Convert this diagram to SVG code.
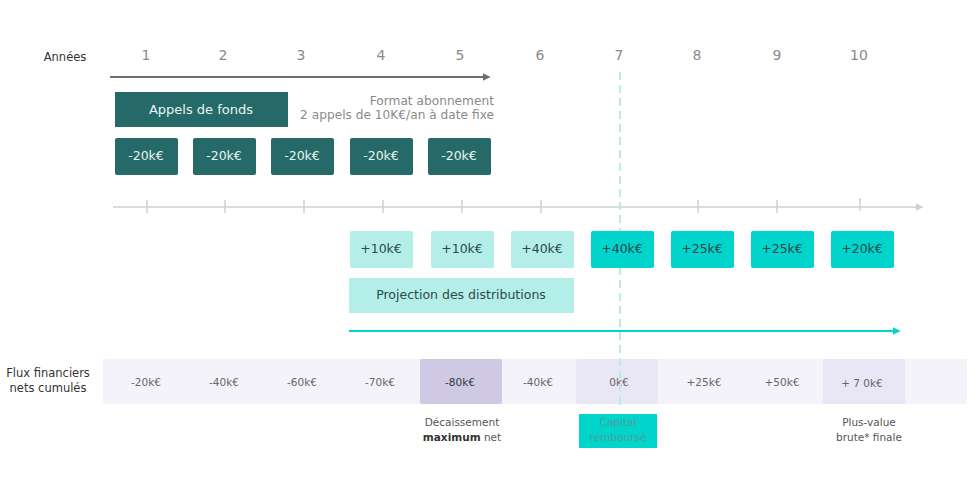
<svg xmlns="http://www.w3.org/2000/svg" width="980" height="500" viewBox="0 0 980 500">
<defs>
<style>
text{font-family:"DejaVu Sans","Noto Sans",sans-serif}
.yr{font-size:14px;fill:#8a8a8a;text-anchor:middle}
.lbl{font-size:11.5px;fill:#333;text-anchor:middle}
.dark{fill:#256a69}
.light{fill:#b4eee8}
.teal{fill:#00d4cb}
.wt{font-size:12.5px;fill:#e8f4f3;text-anchor:middle}
.dt{font-size:12.5px;fill:#2c4a4a;text-anchor:middle}
.note{font-size:12.2px;fill:#8a8a8a;text-anchor:end}
.cell{font-size:10.5px;fill:#666;text-anchor:middle}
.cap{font-size:10.5px;fill:#555;text-anchor:middle}
.tick{stroke:#d0d0d0;stroke-width:1.5}
</style>
<marker id="ag" viewBox="0 0 10 10" refX="8" refY="5" markerWidth="4" markerHeight="4" orient="auto"><path d="M0,0L10,5L0,10z" fill="#6e6e6e"/></marker>
<marker id="al" viewBox="0 0 10 10" refX="8" refY="5" markerWidth="5" markerHeight="5" orient="auto"><path d="M0,0L10,5L0,10z" fill="#d0d0d0"/></marker>
<marker id="at" viewBox="0 0 10 10" refX="8" refY="5" markerWidth="4" markerHeight="4" orient="auto"><path d="M0,0L10,5L0,10z" fill="#00d4cb"/></marker>
</defs>
<rect width="980" height="500" fill="#fff"/>

<g id="years">
<text x="65" y="61" class="lbl">Années</text>
<text x="146" y="60" class="yr">1</text>
<text x="223" y="60" class="yr">2</text>
<text x="301" y="60" class="yr">3</text>
<text x="381" y="60" class="yr">4</text>
<text x="460" y="60" class="yr">5</text>
<text x="540" y="60" class="yr">6</text>
<text x="619" y="60" class="yr">7</text>
<text x="697" y="60" class="yr">8</text>
<text x="777" y="60" class="yr">9</text>
<text x="859" y="60" class="yr">10</text>
</g>

<g id="connectors">
<line x1="110" y1="77" x2="489" y2="77" stroke="#6e6e6e" stroke-width="2" marker-end="url(#ag)"/>
<line x1="113" y1="207" x2="922" y2="207" stroke="#d0d0d0" stroke-width="1.5" marker-end="url(#al)"/>
<g>
<line class="tick" x1="147" y1="200" x2="147" y2="213"/>
<line class="tick" x1="225" y1="200" x2="225" y2="213"/>
<line class="tick" x1="304" y1="200" x2="304" y2="213"/>
<line class="tick" x1="383" y1="200" x2="383" y2="213"/>
<line class="tick" x1="462" y1="200" x2="462" y2="213"/>
<line class="tick" x1="541" y1="200" x2="541" y2="213"/>
<line class="tick" x1="698" y1="200" x2="698" y2="213"/>
<line class="tick" x1="777" y1="200" x2="777" y2="213"/>
<line class="tick" x1="860" y1="198" x2="860" y2="211"/>
</g>
<line x1="349" y1="331" x2="899" y2="331" stroke="#00d4cb" stroke-width="2" marker-end="url(#at)"/>
</g>

<g id="appels">
<rect x="115" y="92" width="173" height="35" class="dark"/>
<text x="201" y="114" class="wt" style="font-size:13px">Appels de fonds</text>
</g>
<g id="format">
<text x="494" y="105" class="note">Format abonnement</text>
<text x="494" y="119" class="note">2 appels de 10K€/an à date fixe</text>
</g>

<g id="calls">
<rect x="115" y="138" width="63" height="37" rx="2" class="dark"/>
<text x="146" y="160" class="wt">-20k€</text>
<rect x="193" y="138" width="63" height="37" rx="2" class="dark"/>
<text x="224" y="160" class="wt">-20k€</text>
<rect x="271" y="138" width="63" height="37" rx="2" class="dark"/>
<text x="302" y="160" class="wt">-20k€</text>
<rect x="350" y="138" width="63" height="37" rx="2" class="dark"/>
<text x="381" y="160" class="wt">-20k€</text>
<rect x="428" y="138" width="63" height="37" rx="2" class="dark"/>
<text x="459" y="160" class="wt">-20k€</text>
</g>

<g id="flux">
<text x="48" y="377" class="lbl">Flux financiers</text>
<text x="48" y="392" class="lbl">nets cumulés</text>
<rect x="103" y="359" width="864" height="45" rx="2" fill="#f4f3fa"/>
<rect x="420" y="359" width="82" height="45" rx="2" fill="#cfc9e6"/>
<rect x="576" y="359" width="82" height="45" rx="2" fill="#e9e6f5"/>
<rect x="823" y="359" width="82" height="45" rx="2" fill="#e9e6f5"/>
<text x="146" y="386" class="cell">-20k€</text>
<text x="224" y="386" class="cell">-40k€</text>
<text x="302" y="386" class="cell">-60k€</text>
<text x="380" y="386" class="cell">-70k€</text>
<text x="460" y="386" class="cell" style="fill:#2c3a3a">-80k€</text>
<text x="538" y="386" class="cell">-40k€</text>
<text x="619" y="386" class="cell">0k€</text>
<text x="704" y="386" class="cell">+25k€</text>
<text x="782" y="386" class="cell">+50k€</text>
<text x="862" y="387" class="cell">+ 7 0k€</text>
</g>

<g id="dashed">
<line x1="620" y1="72" x2="620" y2="408" stroke="#b4eee8" stroke-width="2" stroke-dasharray="8,5"/>
</g>

<g id="distributions">
<rect x="350" y="231" width="63" height="37" rx="2" class="light"/>
<text x="381" y="253" class="dt">+10k€</text>
<rect x="431" y="231" width="63" height="37" rx="2" class="light"/>
<text x="462" y="253" class="dt">+10k€</text>
<rect x="511" y="231" width="63" height="37" rx="2" class="light"/>
<text x="542" y="253" class="dt">+40k€</text>
<rect x="591" y="231" width="63" height="37" rx="2" class="teal"/>
<text x="622" y="253" class="dt">+40k€</text>
<rect x="671" y="231" width="63" height="37" rx="2" class="teal"/>
<text x="702" y="253" class="dt">+25k€</text>
<rect x="751" y="231" width="63" height="37" rx="2" class="teal"/>
<text x="782" y="253" class="dt">+25k€</text>
<rect x="831" y="231" width="63" height="37" rx="2" class="teal"/>
<text x="862" y="253" class="dt">+20k€</text>
</g>

<g id="projection">
<rect x="349" y="278" width="225" height="35" class="light"/>
<text x="461" y="299" class="dt">Projection des distributions</text>
</g>

<g id="decaissement">
<text x="462" y="426" class="cap">Décaissement</text>
<text x="462" y="441" class="cap"><tspan font-weight="bold" fill="#333">maximum</tspan> net</text>
</g>
<g id="capital">
<rect x="579" y="414" width="78" height="34" class="teal"/>
<text x="618" y="426" class="cap" style="fill:#4f9e98">Capital</text>
<text x="618" y="441" class="cap" style="fill:#4f9e98">remboursé</text>
</g>
<g id="plusvalue">
<text x="869" y="426" class="cap">Plus-value</text>
<text x="869" y="441" class="cap">brute* finale</text>
</g>
</svg>
